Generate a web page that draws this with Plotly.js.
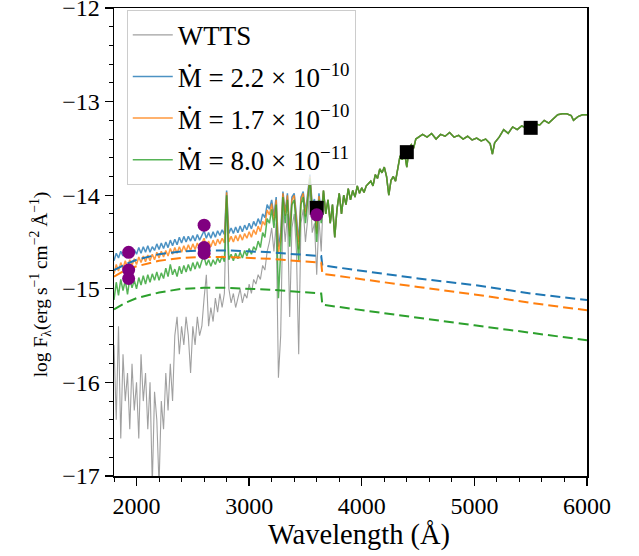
<!DOCTYPE html>
<html>
<head>
<meta charset="utf-8">
<script src="https://cdn.plot.ly/plotly-3.0.1.min.js"></script>
<style>html,body{margin:0;padding:0;background:#fff;}#plot{width:639px;height:556px;}</style>
</head>
<body>
<div id="plot"></div>
<script>
// ---- Data ----
const waveUV = [1800,1820,1840,1860,1880,1900,1920,1940,1960,1980,
2000,2020,2040,2060,2080,2100,2120,2140,2160,2180,
2200,2220,2240,2260,2280,2300,2320,2340,2360,2380,
2400,2420,2440,2460,2480,2500,2520,2540,2560,2580,
2600,2620,2640,2660,2680,2700,2720,2740,2760,2780,
2800,2820,2840,2860,2880,2900,2920,2940,2960,2980,
3000,3020,3040,3060,3080,3100,3120,3140,3160,3180,
3200,3220,3240,3260,3280,3300,3320,3340,3360,3380,
3400,3420,3440,3460,3480,3500,3520,3540,3560,3580,
3600,3620,3640];

const wttsUV = [-15.6,-16.4,-15.4,-16.6,-15.7,-16.2,-15.9,-16.5,-15.8,-16.3,
-16.0,-16.6,-15.7,-16.2,-15.9,-16.5,-16.0,-17.1,-16.1,-16.4,
-17.1,-16.2,-16.5,-15.9,-16.3,-15.8,-16.2,-15.5,-15.3,-15.7,
-15.4,-15.6,-15.3,-15.5,-15.9,-15.4,-15.6,-15.3,-15.5,-15.4,
-15.1,-14.85,-15.4,-15.2,-15.35,-15.1,-15.25,-15.05,-15.2,-15.05,
-14.0,-15.0,-15.15,-15.05,-15.2,-15.1,-15.0,-15.15,-15.05,-15.1,
-14.95,-15.05,-14.9,-14.95,-14.85,-14.9,-14.75,-14.8,-14.6,-14.5,
-14.35,-14.6,-14.3,-15.95,-15.5,-14.15,-14.5,-14.2,-15.3,-14.35,
-14.2,-14.6,-15.7,-14.3,-14.15,-14.5,-14.25,-13.9,-14.4,-14.3,
-14.85,-14.25,-14.6];

const blueUV = [-14.7,-14.62,-14.67,-14.6,-14.65,-14.58,-14.66,-14.59,-14.64,-14.58,
-14.63,-14.56,-14.62,-14.55,-14.61,-14.54,-14.61,-14.55,-14.59,-14.52,
-14.58,-14.51,-14.57,-14.5,-14.56,-14.48,-14.54,-14.47,-14.53,-14.45,
-14.51,-14.44,-14.5,-14.44,-14.49,-14.43,-14.49,-14.42,-14.48,-14.42,
-14.38,-14.46,-14.4,-14.46,-14.39,-14.45,-14.38,-14.43,-14.37,-14.42,
-13.95,-14.41,-14.35,-14.41,-14.34,-14.4,-14.33,-14.39,-14.32,-14.37,
-14.3,-14.36,-14.28,-14.33,-14.25,-14.31,-14.2,-14.24,-14.1,-14.15,
-14.05,-14.22,-14.02,-14.55,-14.4,-13.96,-14.18,-13.98,-14.38,-14.02,
-13.98,-14.22,-14.5,-14.02,-13.96,-14.18,-14.0,-13.78,-14.1,-14.04,
-14.35,-13.98,-14.2];

const orangeUV = [-14.84,-14.74,-14.81,-14.72,-14.78,-14.7,-14.77,-14.69,-14.75,-14.68,
-14.74,-14.66,-14.72,-14.65,-14.71,-14.64,-14.7,-14.63,-14.69,-14.61,
-14.67,-14.6,-14.66,-14.59,-14.65,-14.57,-14.63,-14.56,-14.62,-14.55,
-14.61,-14.54,-14.6,-14.53,-14.59,-14.52,-14.58,-14.51,-14.57,-14.51,
-14.46,-14.55,-14.49,-14.55,-14.48,-14.54,-14.47,-14.52,-14.46,-14.51,
-13.97,-14.5,-14.44,-14.5,-14.43,-14.49,-14.42,-14.48,-14.41,-14.46,
-14.39,-14.45,-14.37,-14.42,-14.33,-14.39,-14.28,-14.32,-14.16,-14.21,
-14.09,-14.27,-14.05,-14.62,-14.48,-13.98,-14.22,-14.0,-14.44,-14.05,
-14.0,-14.27,-14.58,-14.05,-13.98,-14.23,-14.03,-13.8,-14.14,-14.07,
-14.41,-14.01,-14.24];

const greenUV = [-15.12,-14.93,-15.07,-14.9,-15.02,-14.91,-15.06,-14.89,-14.99,-14.91,
-15.0,-14.88,-14.96,-14.86,-14.95,-14.85,-14.93,-14.84,-14.91,-14.82,
-14.91,-14.83,-14.89,-14.78,-14.87,-14.74,-14.85,-14.79,-14.87,-14.76,
-14.84,-14.75,-14.82,-14.74,-14.81,-14.72,-14.79,-14.71,-14.78,-14.7,
-14.66,-14.75,-14.69,-14.76,-14.69,-14.74,-14.67,-14.72,-14.65,-14.71,
-14.0,-14.69,-14.63,-14.7,-14.62,-14.68,-14.61,-14.67,-14.59,-14.65,
-14.57,-14.63,-14.55,-14.59,-14.49,-14.56,-14.4,-14.45,-14.25,-14.3,
-14.15,-14.35,-14.1,-15.1,-14.6,-14.02,-14.3,-14.05,-14.55,-14.1,
-14.05,-14.35,-14.7,-14.1,-14.02,-14.3,-14.08,-13.82,-14.2,-14.12,
-14.5,-14.05,-14.3];

const waveOpt = [3660,3680,3700,3720,3740,3760,3780,3800,3820,3840,
3860,3880,3900,3920,3940,3960,3980,4000,4020,4040,
4060,4080,4100,4120,4140,4160,4180,4200,4220,4240,
4260,4280,4300,4320,4340,4360,4380,4400,4420,4440,
4460,4480,4500,4540,4580,4620,4660,4700,4740,4780,
4820,4860,4900,4940,4980,5020,5060,5100,5140,5160,
5180,5220,5260,5300,5340,5380,5420,5460,5500,5540,
5580,5620,5660,5700,5740,5780,5820,5860,5880,5920,
5960,6000];

const fluxOpt = [-13.95,-14.2,-14.05,-14.3,-14.1,-14.45,-14.15,-13.98,-14.2,-14.0,
-14.1,-13.93,-14.05,-13.95,-14.02,-13.9,-13.98,-13.92,-13.97,-13.9,
-13.88,-13.85,-13.9,-13.78,-13.82,-13.72,-13.76,-13.7,-13.8,-14.0,
-13.84,-13.8,-13.85,-13.7,-13.58,-13.62,-13.55,-13.7,-13.5,-13.46,
-13.5,-13.4,-13.38,-13.35,-13.38,-13.34,-13.4,-13.35,-13.37,-13.33,
-13.38,-13.36,-13.4,-13.37,-13.41,-13.39,-13.42,-13.4,-13.45,-13.56,
-13.44,-13.38,-13.3,-13.34,-13.27,-13.3,-13.26,-13.28,-13.27,-13.24,
-13.25,-13.2,-13.23,-13.18,-13.14,-13.13,-13.13,-13.15,-13.2,-13.16,
-13.14,-13.14];

const slabWave   = [1800,1900,2000,2200,2400,2600,2800,3000,3200,3400,3640,3650,4000,4500,5000,5500,6000];
const slabBlue   = [-14.8,-14.74,-14.69,-14.63,-14.6,-14.59,-14.59,-14.6,-14.61,-14.63,-14.65,-14.75,-14.81,-14.89,-14.96,-15.05,-15.12];
const slabOrange = [-14.87,-14.8,-14.76,-14.7,-14.67,-14.66,-14.66,-14.67,-14.68,-14.7,-14.72,-14.84,-14.9,-14.98,-15.06,-15.15,-15.23];
const slabGreen  = [-15.22,-15.15,-15.1,-15.04,-15.0,-14.99,-14.99,-15.0,-15.01,-15.03,-15.05,-15.17,-15.23,-15.31,-15.39,-15.47,-15.55];

const photWave = [3600,4400,5500];
const photFlux = [-14.135,-13.54,-13.28];
const uvWave = [1930,1930,1930,2600,2600,2600,3600];
const uvFlux = [-14.61,-14.80,-14.89,-14.32,-14.56,-14.62,-14.21];

const xTicks = [2000,3000,4000,5000,6000];
const yTicks = [-17,-16,-15,-14,-13,-12];
const legendLabels = ['WTTS',
  'Ṁ = 2.2 × 10<sup>−10</sup>',
  'Ṁ = 1.7 × 10<sup>−10</sup>',
  'Ṁ = 8.0 × 10<sup>−11</sup>'];
const xTitle = 'Wavelength (Å)';
const yTitle = 'log F<sub>λ</sub>(erg\u2009s<sup>−1</sup>\u2009cm<sup>−2</sup>\u2009Å<sup>−1</sup>)';

// ---- Build traces ----
const wave = waveUV.concat(waveOpt);
const C = {blue:'#1f77b4', orange:'#ff7f0e', green:'#2ca02c'};
function solid(y, color, name, grp, width){
  return {x: wave, y: y, type:'scatter', mode:'lines', name: name, legendgroup: grp,
          line:{color: color, width: width}, hoverinfo:'skip'};
}
const dash = '10px,5px';
const traces = [
  solid(wttsUV.concat(fluxOpt), 'rgba(128,128,128,0.75)', legendLabels[0], 'g0', 1.1),
  solid(blueUV.concat(fluxOpt), 'rgba(31,119,180,0.8)', legendLabels[1], 'g1', 1.5),
  solid(orangeUV.concat(fluxOpt), 'rgba(255,127,14,0.8)', legendLabels[2], 'g2', 1.5),
  solid(greenUV.concat(fluxOpt), 'rgba(44,160,44,0.8)', legendLabels[3], 'g3', 1.5),
  {x: slabWave, y: slabBlue, type:'scatter', mode:'lines', showlegend:false, line:{color:C.blue, width:2, dash:dash}},
  {x: slabWave, y: slabOrange, type:'scatter', mode:'lines', showlegend:false, line:{color:C.orange, width:2, dash:dash}},
  {x: slabWave, y: slabGreen, type:'scatter', mode:'lines', showlegend:false, line:{color:C.green, width:2, dash:dash}},
  {x: photWave, y: photFlux, type:'scatter', mode:'markers', showlegend:false, marker:{symbol:'square', size:14, color:'black'}},
  {x: uvWave, y: uvFlux, type:'scatter', mode:'markers', showlegend:false, marker:{symbol:'circle', size:13, color:'purple'}}
];

const fontFam = "'Liberation Serif', 'Times New Roman', serif";
const axisCommon = {
  showline:true, mirror:true, linecolor:'black', linewidth:1.5,
  ticks:'outside', ticklen:8, tickwidth:1.3, tickcolor:'black',
  showgrid:false, zeroline:false, ticklabeloverflow:'allow',
  tickfont:{family:fontFam, size:24, color:'black'}
};
const layout = {
  width:639, height:556,
  margin:{l:114, r:52, t:8, b:80},
  paper_bgcolor:'white', plot_bgcolor:'white',
  font:{family:fontFam, size:24, color:'black'},
  showlegend:true,
  legend:{x:0.027, y:0.996, xanchor:'left', yanchor:'top',
          bgcolor:'rgba(255,255,255,0.8)', bordercolor:'#cccccc', borderwidth:1,
          font:{family:fontFam, size:27, color:'black'}, tracegroupgap:3.5, itemwidth:40},
  xaxis: Object.assign({}, axisCommon, {
    range:[1800,6000], tickmode:'array', tickvals:xTicks,
    minor:{dtick:200, tick0:1800, ticks:'outside', ticklen:4, tickwidth:1, tickcolor:'black'}
  }),
  yaxis: Object.assign({}, axisCommon, {
    range:[-17.0005,-11.9995], tickmode:'array', tickvals:yTicks,
    minor:{dtick:0.2, tick0:-17, ticks:'outside', ticklen:4, tickwidth:1, tickcolor:'black'}
  }),
  annotations:[{
    text:yTitle, xref:'paper', yref:'paper', x:-0.156, y:0.41,
    xanchor:'center', yanchor:'middle', textangle:-90, showarrow:false,
    font:{family:fontFam, size:19.5, color:'black'}
  },{
    text:xTitle, xref:'paper', yref:'paper', x:0.517, y:-0.125,
    xanchor:'center', yanchor:'middle', showarrow:false,
    font:{family:fontFam, size:28.5, color:'black'}
  }]
};
Plotly.newPlot('plot', traces, layout, {staticPlot:true, displayModeBar:false});
</script>
</body>
</html>
